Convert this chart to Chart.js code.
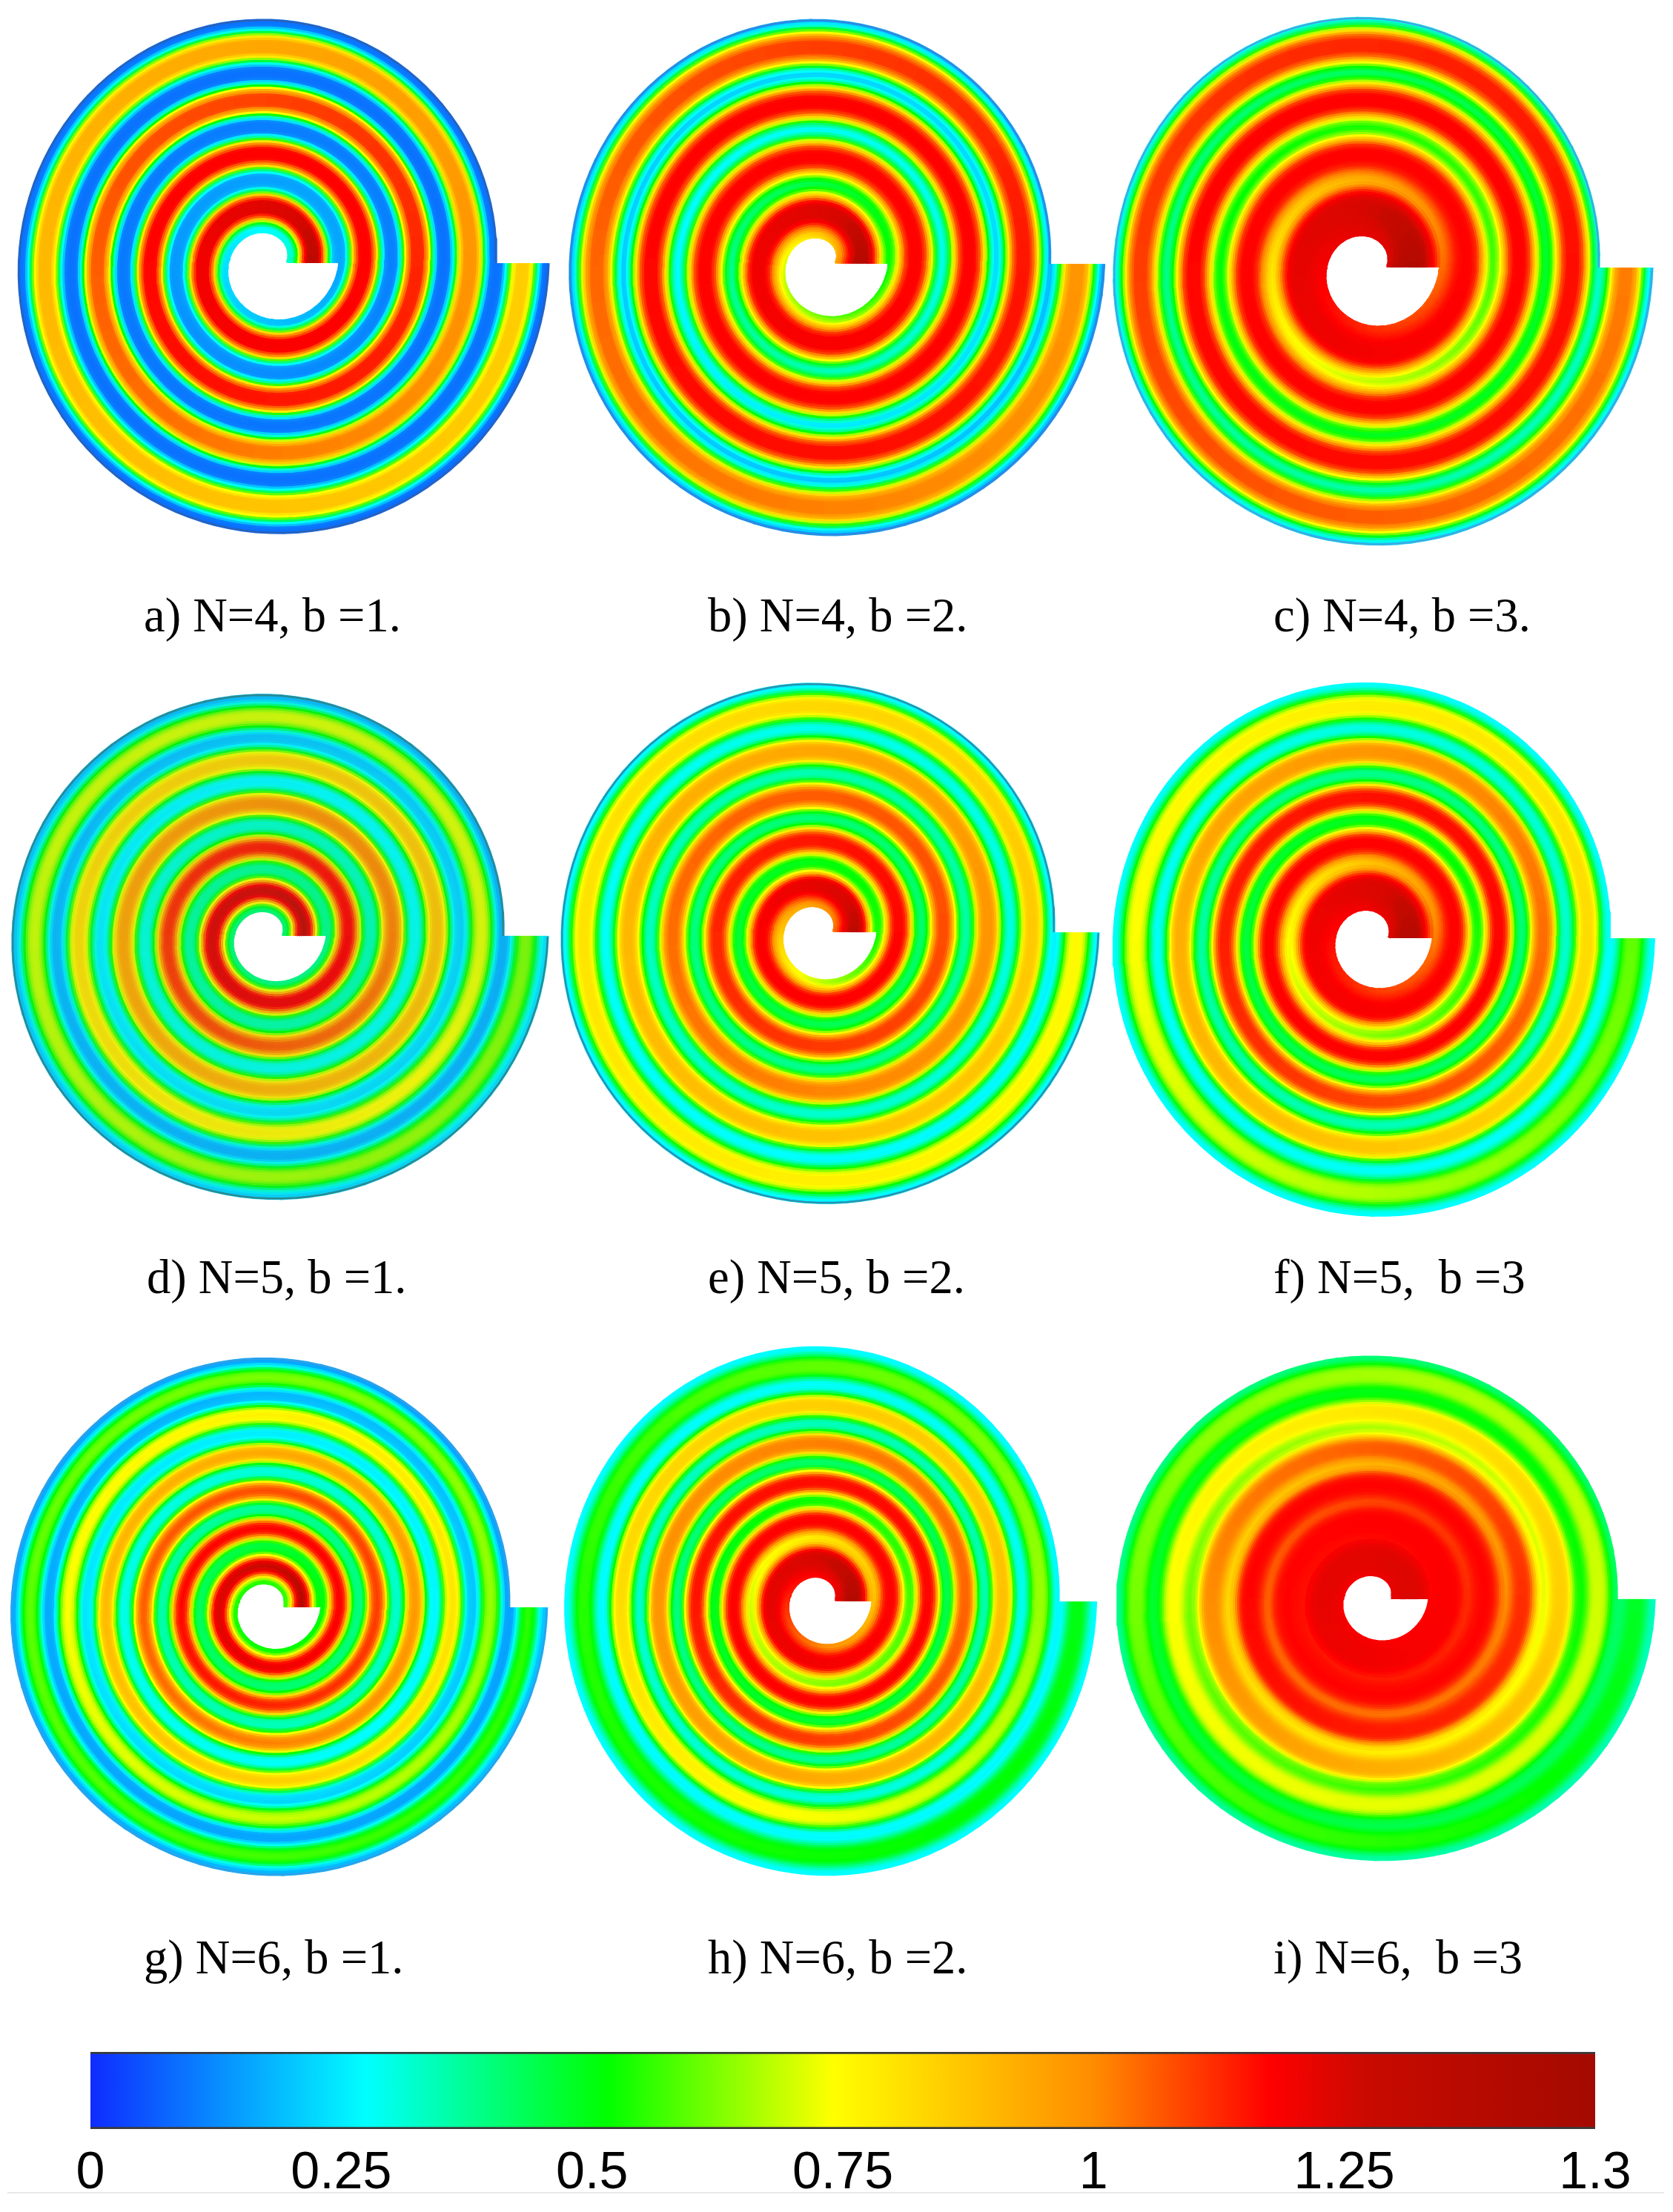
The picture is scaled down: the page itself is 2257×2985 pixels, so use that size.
<!DOCTYPE html>
<html>
<head>
<meta charset="utf-8">
<title>Spiral contours</title>
<script src="https://cdn.jsdelivr.net/npm/chart.js@4/dist/chart.umd.min.js"></script>
<style>
    html, body { margin: 0; padding: 0; background: #fff; }
    #page { position: relative; width: 2257px; height: 2985px; overflow: hidden; background: #fff; }
    canvas { position: absolute; }
    .caption { position: absolute; font: 64.5px/65px "Liberation Serif", serif; color: #000; white-space: pre; }
    #baseLine { position: absolute; left: 10px; top: 2958px; width: 2235px; height: 2px; background: #e8e8e8; }
</style>
</head>
<body>
<div id="page"><div id="baseLine"></div></div>
<script>
// valores de la barra de color
const tickLabels = ['0', '0.25', '0.5', '0.75', '1', '1.25', '1.3'];
const barStops = [0, 1.1, 2.06, 2.96, 4, 4.7, 5.1, 6];
const barColors = ['#0f2bff', '#00ffff', '#00ff00', '#ffff00', '#ff8c00', '#ff0000', '#c80a00', '#a30a00'];

const captions = [
    'a) N=4, b =1.', 'b) N=4, b =2.', 'c) N=4, b =3.',
    'd) N=5, b =1.', 'e) N=5, b =2.', 'f) N=5,  b =3',
    'g) N=6, b =1.', 'h) N=6, b =2.', 'i) N=6,  b =3'
];

// forma del perfil entre pared y centro del canal (x = 0, .1, .2, .3, .4, .5)
const profileWide = [0, 0.16, 0.52, 0.88, 1, 1];
const profileMid = [0, 0.08, 0.42, 0.84, 1, 1];
const profileNarrow = [0, 0.03, 0.3, 0.75, 0.97, 1];
const profileSharp = [0, 0.01, 0.28, 0.8, 1, 1];

// valor en el centro del canal, cada media vuelta desde la entrada
const peakA = [0.85, 0.9, 0.98, 1.06, 1.13, 1.17, 1.17, 1.2, 1.27];
const peakB = [0.98, 1.05, 1.15, 1.17, 1.17, 1.17, 1.17, 1.2, 1.28];
const peakC = [1.02, 1.1, 1.16, 1.17, 1.17, 1.17, 1.17, 1.22, 1.28];
const peakD = [0.63, 0.7, 0.72, 0.82, 0.88, 0.95, 1.02, 1.12, 1.18, 1.24, 1.27];
const peakE = [0.75, 0.8, 0.86, 0.9, 0.98, 1.04, 1.08, 1.13, 1.17, 1.18, 1.27];
const peakF = [0.6, 0.74, 0.82, 0.92, 1.04, 1.14, 1.17, 1.17, 1.17, 1.2, 1.28];
const peakG = [0.55, 0.6, 0.65, 0.74, 0.8, 0.9, 0.97, 1.06, 1.1, 1.17, 1.18, 1.24, 1.28];
const peakH = [0.5, 0.55, 0.65, 0.82, 0.88, 0.98, 1.05, 1.15, 1.17, 1.17, 1.17, 1.22, 1.28];
const peakI = [0.48, 0.62, 0.7, 0.74, 0.85, 1.0, 1.12, 1.17, 1.17, 1.17, 1.18, 1.22, 1.24];

// valor en la pared entre canales, cada media vuelta
const wallA = [0.08, 0.09, 0.09, 0.09, 0.09, 0.1, 0.11, 0.14, 0.16, 0.24, 0.33];
const wallB = [0.12, 0.14, 0.16, 0.18, 0.2, 0.24, 0.27, 0.36, 0.5, 0.68, 0.9];
const wallC = [0.2, 0.22, 0.3, 0.36, 0.45, 0.48, 0.55, 0.76, 1.0, 1.17, 1.2];
const wallD = [0.24, 0.2, 0.17, 0.18, 0.22, 0.25, 0.28, 0.3, 0.34, 0.36, 0.38, 0.4, 0.4];
const wallE = [0.25, 0.24, 0.25, 0.27, 0.29, 0.32, 0.35, 0.38, 0.4, 0.45, 0.52, 0.85, 1.0];
const wallF = [0.27, 0.27, 0.27, 0.27, 0.31, 0.35, 0.39, 0.44, 0.52, 0.72, 1.0, 1.15, 1.2];
const wallG = [0.2, 0.16, 0.15, 0.16, 0.2, 0.24, 0.26, 0.29, 0.32, 0.35, 0.39, 0.42, 0.5, 0.53, 0.55];
const wallH = [0.27, 0.27, 0.26, 0.26, 0.28, 0.31, 0.34, 0.38, 0.43, 0.47, 0.55, 0.68, 0.85, 1.1, 1.17];
const wallI = [0.33, 0.38, 0.42, 0.47, 0.52, 0.62, 0.72, 0.82, 0.98, 1.02, 1.1, 1.15, 1.17, 1.17, 1.2];

// geometria y estilo de cada espiral en la pagina
const panels = [
    { turns: 4, cx: 365, cy: 355, R: 376, pitch: 71, sy: 1.019, peak: peakA, wall: wallA, profile: profileSharp, rim: '#2a62b8', capX: 194, capY: 852 },
    { turns: 4, cx: 1111, cy: 356, R: 379.5, pitch: 73, sy: 1.015, peak: peakB, wall: wallB, profile: profileWide, rim: '#3088e0', capX: 955, capY: 852 },
    { turns: 4, cx: 1848, cy: 361, R: 382, pitch: 72, sy: 1.029, peak: peakC, wall: wallC, profile: profileWide, rim: '#40a8e0', capX: 1718, capY: 852 },
    { turns: 5, cx: 363, cy: 1263, R: 377, pitch: 60, sy: 0.982, peak: peakD, wall: wallD, profile: profileNarrow, rim: '#2a8a90', wash: 0.1, capX: 198, capY: 1745 },
    { turns: 5, cx: 1105, cy: 1258, R: 378, pitch: 60, sy: 1.009, peak: peakE, wall: wallE, profile: profileMid, rim: '#2a90b0', capX: 955, capY: 1745 },
    { turns: 5, cx: 1852.4, cy: 1266, R: 380.4, pitch: 60, sy: 1.027, peak: peakF, wall: wallF, profile: profileMid, capX: 1718, capY: 1745 },
    { turns: 6, cx: 364.25, cy: 2169, R: 374.75, pitch: 51, sy: 1.0, peak: peakG, wall: wallG, profile: profileNarrow, rim: '#30a0e8', capX: 194, capY: 2663 },
    { turns: 6, cx: 1108, cy: 2161, R: 371.5, pitch: 50.5, sy: 1.03, peak: peakH, wall: wallH, profile: profileMid, capX: 955, capY: 2663 },
    { turns: 6, cx: 1856.5, cy: 2158, R: 376, pitch: 51, sy: 0.971, peak: peakI, wall: wallI, profile: profileMid, capX: 1718, capY: 2663 }
];

const page = document.getElementById('page');
const BOX = 420; // medio lado del canvas de cada espiral

function hexToRgb(hex) {
    return [1, 3, 5].map(i => parseInt(hex.substr(i, 2), 16));
}

const barRgb = barColors.map(hexToRgb);

// lee una lista por tramos lineales
function readStations(list, pos) {
    const i = Math.min(Math.max(pos, 0), list.length - 1);
    const k = Math.min(Math.floor(i), list.length - 2);
    return list[k] + (list[k + 1] - list[k]) * (i - k);
}

function valueToColor(v, wash) {
    // la barra tiene marcas iguales aunque 1.25 -> 1.3 es un tramo corto
    const u = v <= 1.25 ? v / 0.25 : 5 + (v - 1.25) / 0.05;
    let k = 0;
    while (k < barStops.length - 2 && u > barStops[k + 1]) k++;
    const f = Math.min(Math.max((u - barStops[k]) / (barStops[k + 1] - barStops[k]), 0), 1);
    let rgb = barRgb[k].map((c, i) => c + (barRgb[k + 1][i] - c) * f);
    if (wash) {
        const grey = [70, 120, 125];
        rgb = rgb.map((c, i) => c * (1 - wash) + grey[i] * wash);
    }
    return `rgb(${Math.round(rgb[0])},${Math.round(rgb[1])},${Math.round(rgb[2])})`;
}

function buildStrip(panel, x, width) {
    const radius = t => panel.R - panel.pitch * (t + x);
    const half = width / 2;
    const t0 = half / (2 * Math.PI * radius(0));
    const t1 = panel.turns - half / (2 * Math.PI * radius(panel.turns));
    const steps = panel.turns * 120;
    const points = [];
    const stripColors = [];
    const side = Math.min(x, 1 - x) * 10;
    const shape = readStations(panel.profile, side);
    for (let i = 0; i <= steps; i++) {
        const t = t0 + (t1 - t0) * i / steps;
        const r = radius(t);
        const a = -2 * Math.PI * t;
        points.push({ x: r * Math.cos(a), y: r * Math.sin(a) });
        const w = readStations(panel.wall, (t + x) * 2);
        const p = readStations(panel.peak, t * 2);
        // con pared caliente la banda fria se ve mas fina
        const s = w > 0.5 ? Math.pow(shape, 1 - (w - 0.5) * 1.2) : shape;
        const v = Math.round((w + (p - w) * s) * 250) / 250;
        stripColors.push(valueToColor(v, panel.wash));
    }
    return {
        data: points,
        stripColors: stripColors,
        showLine: true,
        borderWidth: width,
        borderColor: stripColors[0],
        borderCapStyle: 'square',
        borderJoinStyle: 'round',
        pointRadius: 0,
        tension: 0,
        clip: false,
        segment: {
            borderColor: ctx => ctx.chart.data.datasets[ctx.datasetIndex].stripColors[ctx.p0DataIndex]
        }
    };
}

function buildRim(panel) {
    const width = 2.5;
    const points = [];
    const inset = 1.2;
    const t0 = width / 2 / (2 * Math.PI * panel.R);
    for (let i = 0; i <= 120; i++) {
        const t = t0 + (1 - t0) * i / 120;
        const r = panel.R - panel.pitch * t - inset;
        const a = -2 * Math.PI * t;
        points.push({ x: r * Math.cos(a), y: r * Math.sin(a) });
    }
    return {
        data: points,
        showLine: true,
        borderWidth: width,
        borderColor: panel.rim,
        borderCapStyle: 'butt',
        pointRadius: 0,
        tension: 0,
        clip: false
    };
}

function drawPanel(panel) {
    const canvas = document.createElement('canvas');
    canvas.width = BOX * 2;
    canvas.height = BOX * 2;
    canvas.style.left = (panel.cx - BOX) + 'px';
    canvas.style.top = (panel.cy - BOX) + 'px';
    page.appendChild(canvas);

    const datasets = [];
    if (panel.rim) datasets.push(buildRim(panel));
    const count = Math.round(panel.pitch / 3);
    for (let i = 0; i < count; i++) {
        datasets.push(buildStrip(panel, (i + 0.5) / count, panel.pitch / count + 1.2));
    }

    new Chart(canvas.getContext('2d'), {
        type: 'scatter',
        data: { datasets: datasets },
        options: {
            responsive: false,
            animation: false,
            parsing: false,
            events: [],
            layout: { padding: 0 },
            plugins: { legend: { display: false }, tooltip: { enabled: false } },
            scales: {
                x: { type: 'linear', display: false, min: -BOX, max: BOX },
                y: { type: 'linear', display: false, min: -BOX / panel.sy, max: BOX / panel.sy }
            }
        }
    });

    const caption = document.createElement('div');
    caption.className = 'caption';
    caption.textContent = captions[panels.indexOf(panel)];
    caption.style.left = panel.capX + 'px';
    caption.style.top = (panel.capY - 54) + 'px';
    page.appendChild(caption);
}

panels.forEach(drawPanel);

// barra de color
const barCanvas = document.createElement('canvas');
barCanvas.width = 2257;
barCanvas.height = 285;
barCanvas.style.left = '0px';
barCanvas.style.top = '2700px';
page.appendChild(barCanvas);

new Chart(barCanvas.getContext('2d'), {
    type: 'bar',
    data: {
        labels: ['color'],
        datasets: [{
            data: [[0, 6]],
            barPercentage: 1,
            categoryPercentage: 1,
            borderSkipped: false,
            borderWidth: { top: 3, bottom: 3, left: 0, right: 0 },
            borderColor: '#3a3a3a',
            backgroundColor: ctx => {
                const area = ctx.chart.chartArea;
                if (!area) return barColors[0];
                const gradient = ctx.chart.ctx.createLinearGradient(area.left, 0, area.right, 0);
                barStops.forEach((s, i) => gradient.addColorStop(s / 6, barColors[i]));
                return gradient;
            }
        }]
    },
    options: {
        indexAxis: 'y',
        responsive: false,
        animation: false,
        events: [],
        layout: { padding: { left: 122, right: 105, top: 69, bottom: 0 } },
        plugins: { legend: { display: false }, tooltip: { enabled: false } },
        scales: {
            y: { display: false },
            x: {
                type: 'linear',
                min: 0,
                max: 6,
                border: { display: false },
                grid: { display: false },
                afterFit: scale => { scale.height = 112; },
                ticks: {
                    stepSize: 1,
                    autoSkip: false,
                    maxRotation: 0,
                    padding: 11,
                    color: '#000',
                    font: { family: '"Liberation Sans", Arial, sans-serif', size: 70 },
                    callback: value => tickLabels[value]
                }
            }
        }
    }
});
</script>
</body>
</html>
